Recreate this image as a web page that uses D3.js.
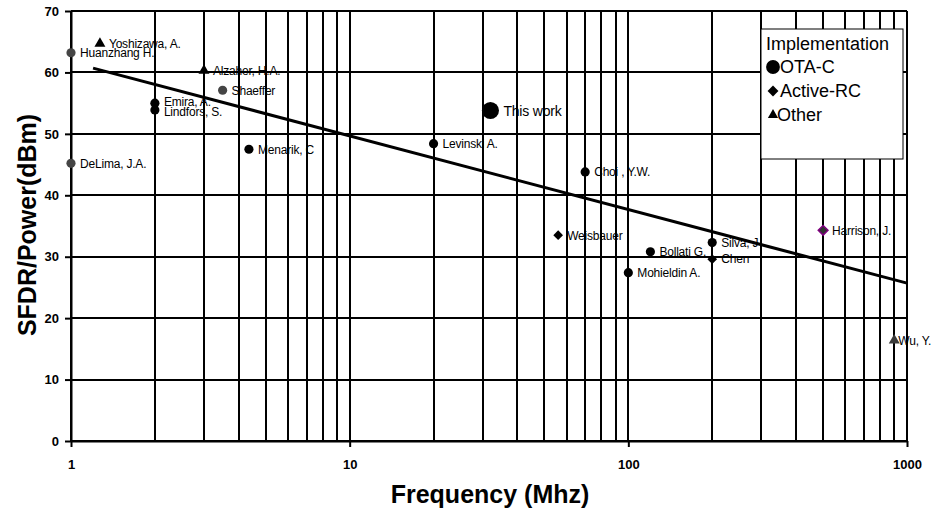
<!DOCTYPE html>
<html>
<head>
<meta charset="utf-8">
<script src="https://cdn.jsdelivr.net/npm/d3@7"></script>
<style>
  body { margin: 0; background: #fff; }
  svg { font-family: "Liberation Sans", Arial, sans-serif; }
  .tick text { font-weight: bold; font-size: 13px; }
</style>
</head>
<body>
<svg width="938" height="514"></svg>
<script>
// datos
var names = ["Yoshizawa, A.", "Huanzhang H.", "Alzaher, H.A.", "Shaeffer", "Emira, A.", "Lindfors, S.",
             "DeLima, J.A.", "Menarik, C", "This work", "Levinski A.", "Choi , Y.W.", "Weisbauer",
             "Bollati G.", "Silva, J", "Chen", "Mohieldin A.", "Harrison, J.", "Wu, Y."];
var freqs = [1.27, 1, 3.0, 3.5, 2.0, 2.0, 1, 4.35, 32, 20, 70, 56, 120, 200, 200, 100, 500, 900];
var sfdr  = [64.7, 63.2, 60.3, 57.1, 55.0, 53.9, 45.2, 47.5, 53.8, 48.4, 43.8, 33.5, 30.8, 32.3, 29.6, 27.4, 34.3, 16.4];
var types = ["Other", "OTA-C", "Other", "OTA-C", "OTA-C", "OTA-C", "OTA-C", "OTA-C", "OTA-C", "OTA-C", "OTA-C",
             "Active-RC", "OTA-C", "OTA-C", "Active-RC", "OTA-C", "Active-RC", "Other"];
var trendFreq = [1.2, 1000];
var trendSfdr = [60.7, 25.7];
var legendItems = ["OTA-C", "Active-RC", "Other"];
var xTicks = [1, 10, 100, 1000];
var yTicks = [0, 10, 20, 30, 40, 50, 60, 70];

var svg = d3.select("svg");
var x = d3.scaleLog().domain([1, 1000]).range([71, 907]);
var y = d3.scaleLinear().domain([0, 70]).range([441, 11]);

var shape = { "OTA-C": d3.symbolCircle, "Active-RC": d3.symbolDiamond2, "Other": d3.symbolTriangle };
var grises = { "Huanzhang H.": "#454545", "DeLima, J.A.": "#454545", "Shaeffer": "#454545", "Wu, Y.": "#3a3a3a", "Harrison, J.": "#333" };

// rejilla
var vgrid = [];
[1, 10, 100].forEach(function(d) { for (var i = 1; i < 10; i++) vgrid.push(d * i); });
vgrid.push(1000);

svg.append("g").selectAll("line").data(vgrid).enter().append("line")
    .attr("x1", function(d) { return Math.round(x(d)); })
    .attr("x2", function(d) { return Math.round(x(d)); })
    .attr("y1", y(70)).attr("y2", y(0))
    .attr("stroke", "#000").attr("stroke-width", 2).attr("shape-rendering", "crispEdges");

svg.append("g").selectAll("line").data(yTicks).enter().append("line")
    .attr("x1", x(1)).attr("x2", x(1000))
    .attr("y1", function(d) { return Math.round(y(d)); })
    .attr("y2", function(d) { return Math.round(y(d)); })
    .attr("stroke", "#000").attr("stroke-width", 2).attr("shape-rendering", "crispEdges");

// ejes
var xAxis = svg.append("g")
    .attr("transform", "translate(0," + y(0) + ")")
    .call(d3.axisBottom(x).tickValues(xTicks).tickFormat(d3.format("d")).tickSize(6).tickSizeOuter(0).tickPadding(13));
var yAxis = svg.append("g")
    .attr("transform", "translate(" + x(1) + ",0)")
    .call(d3.axisLeft(y).tickValues(yTicks).tickSize(6).tickSizeOuter(0).tickPadding(6));
[xAxis, yAxis].forEach(function(a) {
    a.selectAll("line, path").attr("stroke", "#000").attr("stroke-width", 2);
    a.selectAll("text").attr("fill", "#000");
});

// linea de tendencia
svg.append("path")
    .datum(d3.range(trendFreq.length))
    .attr("d", d3.line().x(function(i) { return x(trendFreq[i]); }).y(function(i) { return y(trendSfdr[i]); }))
    .attr("stroke", "#000").attr("stroke-width", 3).attr("fill", "none");

// puntos
var idx = d3.range(names.length);
var pts = svg.append("g").selectAll("g").data(idx).enter().append("g")
    .attr("transform", function(i) { return "translate(" + x(freqs[i]) + "," + y(sfdr[i]) + ")"; });

pts.append("path")
    .attr("d", function(i) {
        var t = types[i], s;
        if (names[i] == "This work") s = 230;
        else if (t == "OTA-C") s = 66;
        else if (t == "Active-RC") s = 60;
        else s = 52;
        return d3.symbol().type(shape[t]).size(s)();
    })
    .attr("fill", function(i) { return grises[names[i]] || "#000"; })
    .attr("stroke", function(i) { return names[i] == "Harrison, J." ? "#800080" : "none"; })
    .attr("stroke-width", 1.5);

pts.append("text")
    .text(function(i) { return names[i]; })
    .attr("x", function(i) { return names[i] == "This work" ? 13 : (names[i] == "Wu, Y." ? 4 : 9); })
    .attr("dy", function(i) { return names[i] == "Emira, A." ? "0.2em" : (names[i] == "Lindfors, S." ? "0.5em" : "0.36em"); })
    .attr("font-size", function(i) { return names[i] == "This work" ? 14 : 12; })
    .attr("letter-spacing", -0.2)
    .attr("fill", "#000");

// leyenda
var leg = svg.append("g").attr("transform", "translate(761,29)");
leg.append("rect").attr("width", 142).attr("height", 130)
    .attr("fill", "#fff").attr("stroke", "#000").attr("stroke-width", 1);
leg.append("text").text("Implementation").attr("x", 5).attr("y", 21).attr("font-size", 18);
var li = leg.selectAll(".li").data(legendItems).enter().append("g")
    .attr("transform", function(d, i) { return "translate(0," + (44 + i * 24) + ")"; });
li.append("path")
    .attr("d", function(d) {
        var s = d == "OTA-C" ? 150 : (d == "Active-RC" ? 75 : 45);
        return d3.symbol().type(shape[d]).size(s)();
    })
    .attr("transform", function(d) { return "translate(12,-6)"; })
    .attr("fill", "#000");
li.append("text").text(function(d) { return d; })
    .attr("x", function(d) { return d == "OTA-C" ? 19 : (d == "Active-RC" ? 19 : 16); })
    .attr("font-size", 18);

// titulos de ejes
svg.append("text").text("Frequency (Mhz)")
    .attr("x", 490).attr("y", 503).attr("text-anchor", "middle")
    .attr("font-size", 25).attr("font-weight", "bold");
svg.append("text").text("SFDR/Power(dBm)")
    .attr("transform", "translate(36,225) rotate(-90)").attr("text-anchor", "middle")
    .attr("font-size", 25).attr("font-weight", "bold");
</script>
</body>
</html>
